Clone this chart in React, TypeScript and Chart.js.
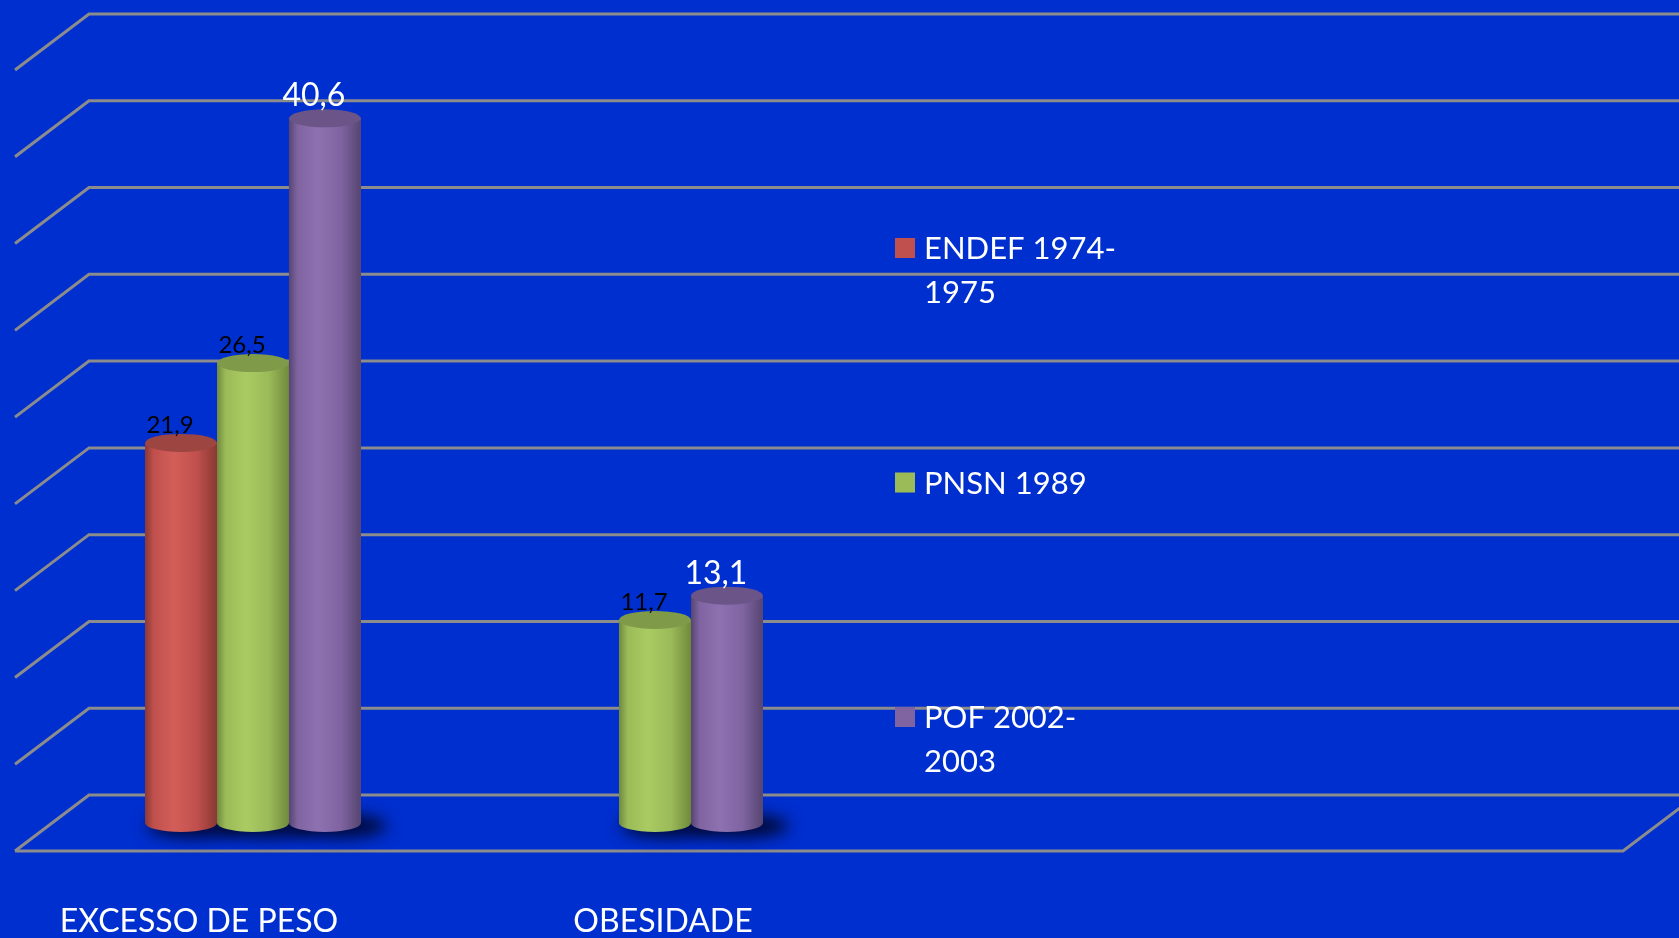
import React, { useEffect, useRef } from "react";
import { Chart, registerables } from "chart.js";

Chart.register(...registerables);

// ---------- data ----------
const categories = ["EXCESSO DE PESO", "OBESIDADE"];
const seriesNames = ["ENDEF 1974-1975", "PNSN 1989", "POF 2002-2003"];
const endefValues: (number | null)[] = [21.9, null];
const pnsnValues: (number | null)[] = [26.5, 11.7];
const pofValues: (number | null)[] = [40.6, 13.1];
const yMin = 0;
const yMax = 45;
const yStep = 5;

// ---------- style ----------
const W = 1679;
const H = 938;
const BG = "#002FCF";
const GRID = "#8C8C8C";
const FONT = "Lato, 'Open Sans', sans-serif";
const DEPTH_X = 37;
const DEPTH_Y = 28;
const CATEGORY_NUDGE = [-54, 8];

const palettes = [
  { base: "#C0504D", light: "#D35E59", dark: "#8A3835", top: "#9C4541", label: "#000000", labelSize: 24 },
  { base: "#9BBB59", light: "#AACA62", dark: "#6F8A3C", top: "#7F9A48", label: "#000000", labelSize: 24 },
  { base: "#8064A2", light: "#8D71B0", dark: "#564570", top: "#6A5488", label: "#FFFFFF", labelSize: 32 },
];

const LEGEND_X = 895;
const LEGEND_BASELINE = 259;
const LEGEND_STEP = 234.5;
const LEGEND_LINE = 44;
const LEGEND_FONT = 31;

const fmt = (v: number) => v.toFixed(1).replace(".", ",");

const scenePlugin = {
  id: "scene3d",
  beforeDraw(chart: any) {
    const { ctx } = chart;
    ctx.save();
    ctx.fillStyle = BG;
    ctx.fillRect(0, 0, chart.width, chart.height);
    ctx.restore();
  },
  beforeDatasetsDraw(chart: any) {
    const { ctx, chartArea } = chart;
    const ys = chart.scales.y;
    const catW = chartArea.width / categories.length;
    const planeLeft = chartArea.left;
    const planeRight = chartArea.left + catW * 4;
    const backL = planeLeft + DEPTH_X;
    const frontL = planeLeft - DEPTH_X;

    ctx.save();
    ctx.strokeStyle = GRID;
    ctx.lineWidth = 3;
    for (let v = yMin; v <= yMax + 1e-9; v += yStep) {
      const py = ys.getPixelForValue(v) - DEPTH_Y;
      ctx.beginPath();
      ctx.moveTo(frontL, py + 2 * DEPTH_Y);
      ctx.lineTo(backL, py);
      ctx.lineTo(chart.width + 20, py);
      ctx.stroke();
    }
    const base = ys.getPixelForValue(0);
    ctx.beginPath();
    ctx.moveTo(frontL, base + DEPTH_Y);
    ctx.lineTo(planeRight - DEPTH_X, base + DEPTH_Y);
    ctx.lineTo(planeRight + DEPTH_X, base - DEPTH_Y);
    ctx.stroke();
    ctx.restore();

    // shadows on floor
    ctx.save();
    ctx.filter = "blur(8px)";
    ctx.fillStyle = "rgba(0, 4, 40, 0.9)";
    chart.data.datasets.forEach((ds: any, di: number) => {
      const meta = chart.getDatasetMeta(di);
      meta.data.forEach((el: any, i: number) => {
        if (ds.data[i] == null) return;
        ctx.beginPath();
        ctx.ellipse(el.x + 14, el.base + 3, el.width / 2 + 12, 12, 0, 0, Math.PI * 2);
        ctx.fill();
      });
    });
    ctx.restore();
  },
  afterDatasetsDraw(chart: any) {
    const { ctx } = chart;
    const xs = chart.scales.x;
    ctx.save();
    chart.data.datasets.forEach((ds: any, di: number) => {
      const p = palettes[di];
      const meta = chart.getDatasetMeta(di);
      meta.data.forEach((el: any, i: number) => {
        const v = ds.data[i];
        if (v == null) return;
        const { x, y, base, width } = el;
        const l = x - width / 2;
        const r = x + width / 2;
        const rx = width / 2;
        const ry = 9;
        const g = ctx.createLinearGradient(l, 0, r, 0);
        g.addColorStop(0, p.dark);
        g.addColorStop(0.12, p.base);
        g.addColorStop(0.4, p.light);
        g.addColorStop(0.72, p.base);
        g.addColorStop(1, p.dark);
        ctx.fillStyle = g;
        ctx.beginPath();
        ctx.moveTo(l, y);
        ctx.lineTo(l, base);
        ctx.ellipse(x, base, rx, ry, 0, Math.PI, 0, true);
        ctx.lineTo(r, y);
        ctx.closePath();
        ctx.fill();
        // top face
        ctx.fillStyle = p.top;
        ctx.beginPath();
        ctx.ellipse(x, y, rx, ry, 0, 0, Math.PI * 2);
        ctx.fill();
        // value label
        ctx.fillStyle = p.label;
        ctx.font = `${p.labelSize}px ${FONT}`;
        ctx.textAlign = "center";
        ctx.textBaseline = "alphabetic";
        ctx.fillText(fmt(v), x - 11, y - (p.labelSize > 26 ? 12 : 10));
      });
    });

    // category labels
    ctx.fillStyle = "#FFFFFF";
    ctx.font = `32px ${FONT}`;
    ctx.textAlign = "center";
    ctx.textBaseline = "alphabetic";
    categories.forEach((c, i) => {
      ctx.fillText(c, xs.getPixelForValue(i) + CATEGORY_NUDGE[i], 932);
    });

    // legend
    ctx.font = `${LEGEND_FONT}px ${FONT}`;
    ctx.textAlign = "left";
    chart.data.datasets.forEach((ds: any, di: number) => {
      const by = LEGEND_BASELINE + di * LEGEND_STEP;
      ctx.fillStyle = palettes[di].base;
      ctx.fillRect(LEGEND_X, by - 21, 20, 20);
      ctx.fillStyle = "#FFFFFF";
      const lines = String(ds.label).split(/(?<=-)/);
      lines.forEach((ln: string, k: number) => {
        ctx.fillText(ln, LEGEND_X + 29, by + k * LEGEND_LINE);
      });
    });
    ctx.restore();
  },
};

export default function App() {
  const ref = useRef<HTMLCanvasElement | null>(null);

  useEffect(() => {
    if (!ref.current) return;
    document.body.style.margin = "0";
    document.body.style.background = BG;
    const seriesValues = [endefValues, pnsnValues, pofValues];
    const chart = new Chart(ref.current, {
      type: "bar",
      data: {
        labels: categories,
        datasets: seriesNames.map((name, i) => ({
          label: name,
          data: seriesValues[i],
          backgroundColor: palettes[i].base,
          borderWidth: 0,
          categoryPercentage: 0.537,
          barPercentage: 1,
        })),
      },
      options: {
        responsive: false,
        animation: false,
        devicePixelRatio: 1,
        layout: { padding: { left: 52, right: 823, top: 42, bottom: 115 } },
        plugins: { legend: { display: false }, tooltip: { enabled: false } },
        scales: {
          x: { display: false, grid: { display: false } },
          y: { display: false, min: yMin, max: yMax, ticks: { stepSize: yStep } },
        },
      },
      plugins: [scenePlugin],
    } as any);
    return () => chart.destroy();
  }, []);

  return (
    <div style={{ position: "fixed", left: 0, top: 0, width: W, height: H, background: BG }}>
      <canvas ref={ref} width={W} height={H} style={{ display: "block", width: W, height: H }} />
    </div>
  );
}
